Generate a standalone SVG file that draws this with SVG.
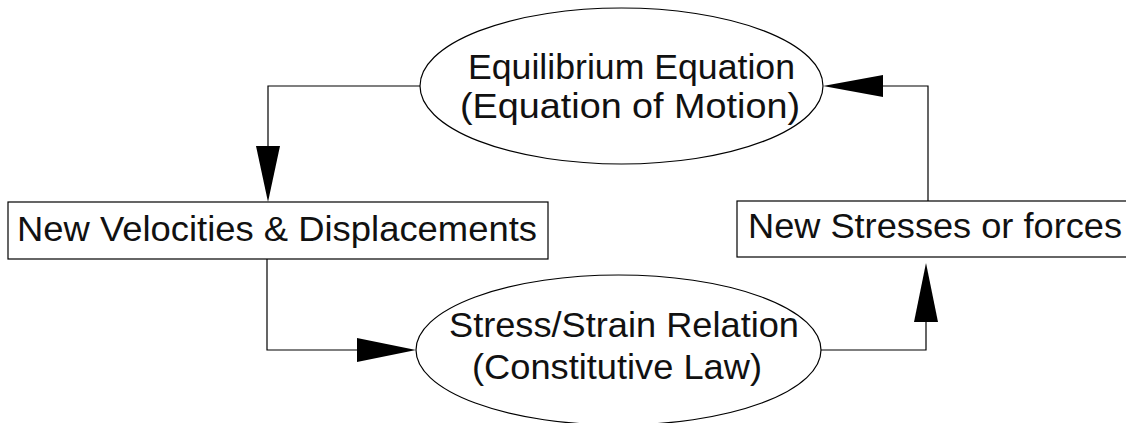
<svg xmlns="http://www.w3.org/2000/svg" width="1126" height="423" viewBox="0 0 1126 423">
<style>
.shape{fill:#fff;stroke:#000;stroke-width:1.2}
.line{fill:none;stroke:#000;stroke-width:1.2}
.head{fill:#000;stroke:none}
.t{font-family:"Liberation Sans",Arial,sans-serif;font-size:35px;fill:#111;text-anchor:middle}
</style>
<rect width="1126" height="423" fill="#fff"/>
<g id="connectors">
<polyline class="line" points="420,86 268,86 268,150"/>
<polygon class="head" points="268,202 256,146 280,146"/>
<polyline class="line" points="267,259 267,350 360,350"/>
<polygon class="head" points="416,350 357,338 357,362"/>
<polyline class="line" points="821,350 926,350 926,320"/>
<polygon class="head" points="926,263 914,322 938,322"/>
<polyline class="line" points="928,201 928,86 880,86"/>
<polygon class="head" points="823,86 883,75 883,97"/>
</g>
<g id="equilibrium">
<ellipse class="shape" cx="621.5" cy="86" rx="201.5" ry="78"/>
<text class="t" x="631.5" y="79" textLength="327" lengthAdjust="spacingAndGlyphs">Equilibrium Equation</text>
<text class="t" x="630" y="118" textLength="340" lengthAdjust="spacingAndGlyphs">(Equation of Motion)</text>
</g>
<g id="velocities">
<rect class="shape" x="8" y="202" width="540" height="57"/>
<text class="t" x="277" y="241" textLength="520" lengthAdjust="spacingAndGlyphs">New Velocities &amp; Displacements</text>
</g>
<g id="stresses">
<rect class="shape" x="737" y="201" width="400" height="56"/>
<text class="t" x="935" y="238" textLength="374" lengthAdjust="spacingAndGlyphs">New Stresses or forces</text>
</g>
<g id="constitutive">
<ellipse class="shape" cx="618.5" cy="350" rx="202.5" ry="75"/>
<text class="t" x="624" y="337" textLength="350" lengthAdjust="spacingAndGlyphs">Stress/Strain Relation</text>
<text class="t" x="617" y="379" textLength="290" lengthAdjust="spacingAndGlyphs">(Constitutive Law)</text>
</g>
</svg>
